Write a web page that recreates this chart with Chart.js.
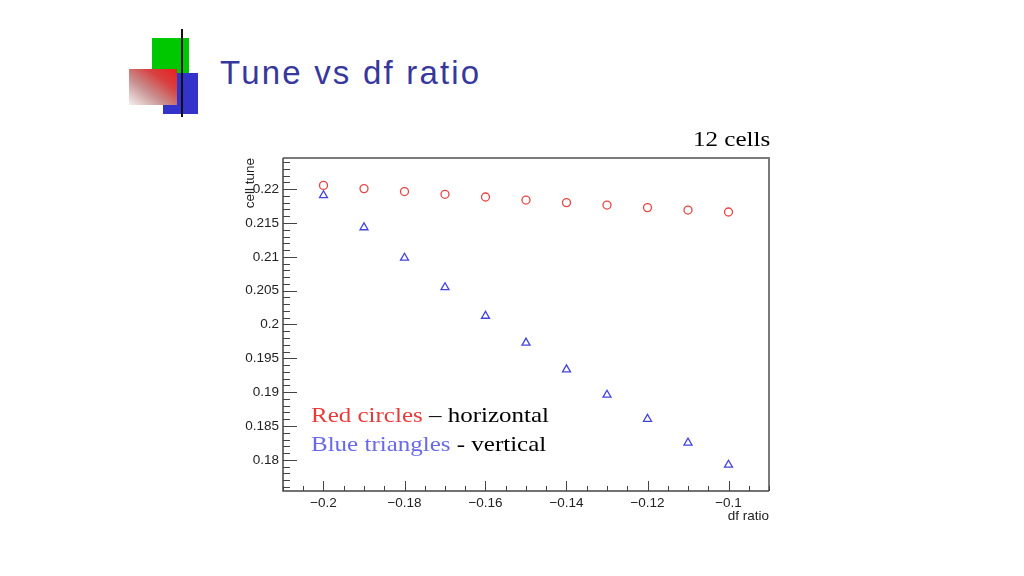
<!DOCTYPE html>
<html>
<head>
<meta charset="utf-8">
<script src="https://cdn.jsdelivr.net/npm/chart.js@4"></script>
<style>
  html, body { margin: 0; padding: 0; background: #ffffff; }
  #wrap { position: relative; width: 1024px; height: 576px; overflow: hidden; background: #fff; }
  #c { position: absolute; left: 0; top: 0; }
  .abs { position: absolute; white-space: nowrap; }
  #title { left: 220px; top: 56px; font-family: "Liberation Sans", Arial, sans-serif; font-size: 33px; line-height: 33px; letter-spacing: 2.2px; color: #38389c; }
  .serif { font-family: "Liberation Serif", "Times New Roman", Times, serif; transform-origin: left top; }
  #cells { left: 693px; top: 128px; font-size: 22px; line-height: 22px; color: #000; transform: scaleX(1.14); }
  #leg1 { left: 311px; top: 405px; font-size: 21px; line-height: 21px; transform: scaleX(1.19); }
  #leg2 { left: 311px; top: 434px; font-size: 21px; line-height: 21px; transform: scaleX(1.19); }
  .red { color: #e83a3a; }
  .blue { color: #6a6ae8; }
  .blk { color: #000; }
  #g { left: 152px; top: 38px; width: 37px; height: 40px; background: #00c800; }
  #b { left: 163px; top: 73px; width: 35px; height: 41px; background: #3333cc; }
  #r { left: 129px; top: 69px; width: 48px; height: 36px; background: linear-gradient(to bottom left, #e82020 0%, #d84040 30%, #c89090 62%, #f4f0f0 100%); }
  #k { left: 181px; top: 29px; width: 2px; height: 88px; background: #111; }
</style>
</head>
<body>
<div id="wrap">
  <div class="abs" id="g"></div>
  <div class="abs" id="b"></div>
  <div class="abs" id="r"></div>
  <div class="abs" id="k"></div>
  <div class="abs" id="title">Tune vs df ratio</div>
  <canvas id="c" width="1024" height="576"></canvas>
  <div class="abs serif" id="cells">12 cells</div>
  <div class="abs serif" id="leg1"><span class="red">Red circles</span><span class="blk"> – horizontal</span></div>
  <div class="abs serif" id="leg2"><span class="blue">Blue triangles</span><span class="blk"> - vertical</span></div>
</div>
<script>
// ---- data ----
const dfRatio = [-0.20, -0.19, -0.18, -0.17, -0.16, -0.15, -0.14, -0.13, -0.12, -0.11, -0.10];
const tuneHorizontal = [0.22055, 0.22008, 0.21964, 0.21924, 0.21884, 0.21839, 0.21801, 0.21765, 0.21727, 0.21691, 0.21662];
const tuneVertical = [0.21908, 0.21434, 0.20985, 0.20549, 0.20126, 0.19730, 0.19335, 0.18960, 0.18604, 0.18253, 0.17927];
const xTicks = [-0.20, -0.18, -0.16, -0.14, -0.12, -0.10];
const yTicks = [0.18, 0.185, 0.19, 0.195, 0.20, 0.205, 0.21, 0.215, 0.22];
const xTickLabels = ["\u22120.2", "\u22120.18", "\u22120.16", "\u22120.14", "\u22120.12", "\u22120.1"];
const yTickLabels = ["0.18", "0.185", "0.19", "0.195", "0.2", "0.205", "0.21", "0.215", "0.22"];
const xAxisTitle = "df ratio";
const yAxisTitle = "cell tune";

const toPts = (xs, ys) => xs.map((x, i) => ({ x: x, y: ys[i] }));

const frameAndTicks = {
  id: 'frameAndTicks',
  afterDatasetsDraw(chart) {
    const { ctx, chartArea: a, scales: { x, y } } = chart;
    ctx.save();
    ctx.strokeStyle = '#7a7a7a';
    ctx.lineWidth = 2;
    ctx.beginPath();
    ctx.moveTo(a.left, a.top); ctx.lineTo(a.right, a.top); ctx.lineTo(a.right, a.bottom);
    ctx.stroke();
    ctx.strokeStyle = '#444';
    ctx.lineWidth = 1.5;
    ctx.beginPath();
    ctx.moveTo(a.left, a.top); ctx.lineTo(a.left, a.bottom); ctx.lineTo(a.right, a.bottom);
    ctx.stroke();
    ctx.lineWidth = 1;
    ctx.strokeStyle = '#444';
    ctx.beginPath();
    for (let k = Math.ceil(y.min * 1000); k <= Math.floor(y.max * 1000); k++) {
      const py = Math.round(y.getPixelForValue(k / 1000)) + 0.5;
      const len = (k % 5 === 0) ? 14 : 7;
      ctx.moveTo(a.left, py); ctx.lineTo(a.left + len, py);
    }
    for (let k = Math.ceil(x.min * 200); k <= Math.floor(x.max * 200); k++) {
      const px = Math.round(x.getPixelForValue(k / 200)) + 0.5;
      const len = (k % 4 === 0) ? 10 : 5;
      ctx.moveTo(px, a.bottom); ctx.lineTo(px, a.bottom - len);
    }
    ctx.stroke();
    ctx.restore();
  }
};

const tickFont = { family: '"Liberation Sans", Arial, sans-serif', size: 13.5 };

new Chart(document.getElementById('c'), {
  type: 'scatter',
  data: {
    datasets: [
      {
        label: 'horizontal',
        data: toPts(dfRatio, tuneHorizontal),
        pointStyle: 'circle',
        pointRadius: 4,
        pointBorderWidth: 1.3,
        borderColor: '#e64545',
        backgroundColor: 'rgba(0,0,0,0)',
        pointBackgroundColor: 'rgba(0,0,0,0)',
        pointBorderColor: '#e64545'
      },
      {
        label: 'vertical',
        data: toPts(dfRatio, tuneVertical),
        pointStyle: 'triangle',
        pointRadius: 4.6,
        pointBorderWidth: 1.3,
        borderColor: '#4444dd',
        backgroundColor: 'rgba(0,0,0,0)',
        pointBackgroundColor: 'rgba(0,0,0,0)',
        pointBorderColor: '#4444dd'
      }
    ]
  },
  options: {
    responsive: false,
    animation: false,
    events: [],
    layout: { padding: { left: 0, top: 158, right: 255, bottom: 0 } },
    plugins: { legend: { display: false }, tooltip: { enabled: false }, title: { display: false } },
    scales: {
      x: {
        type: 'linear',
        min: -0.21, max: -0.09,
        grid: { display: false, drawTicks: false },
        border: { display: false },
        afterBuildTicks: (s) => { s.ticks = xTicks.map(v => ({ value: v })); },
        ticks: {
          padding: 4, color: '#222', font: tickFont, maxRotation: 0, autoSkip: false,
          callback: (v, i) => xTickLabels[i]
        },
        title: { display: true, text: xAxisTitle, align: 'end', color: '#222', font: tickFont, padding: { top: 0, bottom: 52 } },
        afterFit: (s) => { s.height = 85; }
      },
      y: {
        type: 'linear',
        min: 0.1754, max: 0.2246,
        grid: { display: false, drawTicks: false },
        border: { display: false },
        afterBuildTicks: (s) => { s.ticks = yTicks.map(v => ({ value: v })); },
        ticks: {
          padding: 4, color: '#222', font: tickFont, autoSkip: false,
          callback: (v, i) => yTickLabels[i]
        },
        title: { display: true, text: yAxisTitle, align: 'end', color: '#222', font: tickFont, padding: { top: 242, bottom: 0 } },
        afterFit: (s) => { s.width = 283; }
      }
    }
  },
  plugins: [frameAndTicks]
});
</script>
</body>
</html>
